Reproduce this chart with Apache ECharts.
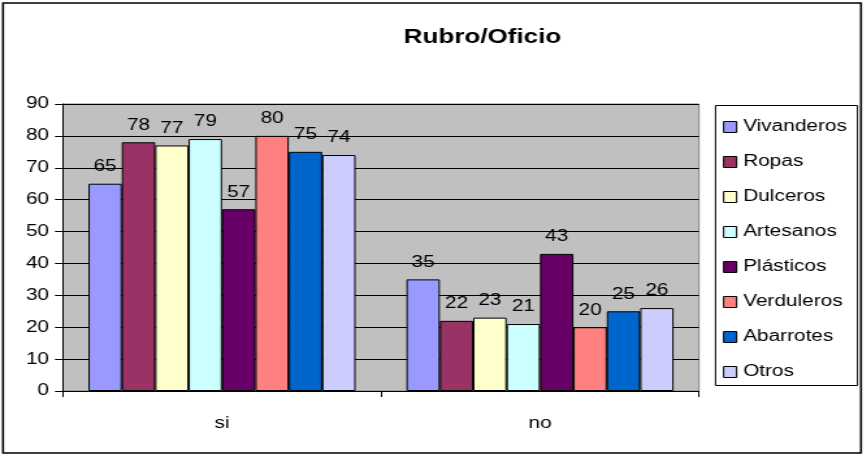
<!DOCTYPE html>
<html>
<head>
<meta charset="utf-8">
<script src="https://cdn.jsdelivr.net/npm/echarts@6/dist/echarts.min.js"></script>
<style>html,body{margin:0;padding:0;background:#fff;overflow:hidden}#c{width:665.4px;height:457px;transform:scaleX(1.3);transform-origin:0 0}</style>
</head>
<body>
<div id="c"></div>
<script>
const categories = ['si', 'no'];
const seriesNames = ['Vivanderos', 'Ropas', 'Dulceros', 'Artesanos', 'Plásticos', 'Verduleros', 'Abarrotes', 'Otros'];
const vivanderos = [65, 35];
const ropas = [78, 22];
const dulceros = [77, 23];
const artesanos = [79, 21];
const plasticos = [57, 43];
const verduleros = [80, 20];
const abarrotes = [75, 25];
const otros = [74, 26];
const colors = ['#9999FF', '#993366', '#FFFFCC', '#CCFFFF', '#660066', '#FF8080', '#0066CC', '#CCCCFF'];
const yTicks = [0, 10, 20, 30, 40, 50, 60, 70, 80, 90];

const values = [vivanderos, ropas, dulceros, artesanos, plasticos, verduleros, abarrotes, otros];
const font = 'Liberation Sans, Arial, sans-serif';
const S = 1.3; // horizontal stretch of the reference rendering
const X = v => v / S;

const chart = echarts.init(document.getElementById('c'), null, {renderer: 'canvas', width: 665.4, height: 457});
chart.setOption({
  animation: false,
  color: colors,
  textStyle: {fontFamily: font},
  title: {
    text: 'Rubro/Oficio', left: X(476), top: 22, textAlign: 'center',
    textStyle: {fontFamily: font, fontSize: 20, fontWeight: 'bold', color: '#000'}
  },
  graphic: [
    {type: 'rect', shape: {x: X(3), y: 3, width: X(858), height: 450}, style: {fill: 'none', stroke: '#000', lineWidth: 1.6}, z: -10},
    {type: 'rect', shape: {x: X(715.5), y: 105.5, width: X(142), height: 280}, style: {fill: '#fff', stroke: '#000', lineWidth: 1}, z: -5}
  ],
  legend: {
    orient: 'vertical', left: X(723), top: 119, padding: 0,
    itemWidth: X(13), itemHeight: 11, itemGap: 19,
    icon: 'rect',
    itemStyle: {borderColor: '#000', borderWidth: 1},
    textStyle: {fontFamily: font, fontSize: 16, color: '#000'},
    data: seriesNames
  },
  grid: {
    left: X(63), right: X(166), top: 104, bottom: 66, show: true,
    backgroundColor: '#C0C0C0', borderColor: '#808080', borderWidth: 1
  },
  xAxis: {
    type: 'category', data: categories,
    axisLine: {lineStyle: {color: '#000', width: 1}},
    axisTick: {show: true, inside: false, length: 6, alignWithLabel: false, lineStyle: {color: '#000'}},
    axisLabel: {fontFamily: font, fontSize: 16, color: '#000', margin: 25},
    splitLine: {show: false}
  },
  yAxis: {
    type: 'value', min: 0, max: 90, interval: 10,
    axisLine: {show: true, lineStyle: {color: '#000', width: 1}},
    axisTick: {show: true, inside: false, length: X(8), lineStyle: {color: '#000'}},
    axisLabel: {fontFamily: font, fontSize: 16, color: '#000', margin: X(14),
      formatter: v => yTicks.includes(v) ? String(v) : ''},
    splitLine: {show: true, lineStyle: {color: '#000', width: 1}}
  },
  series: seriesNames.map((name, i) => ({
    name: name, type: 'bar', data: values[i],
    barGap: '0%', barCategoryGap: '16%',
    itemStyle: {color: colors[i], borderColor: '#000', borderWidth: 1},
    label: {show: true, position: 'top', distance: 9, fontFamily: font, fontSize: 16, color: '#000'}
  }))
});
</script>
</body>
</html>
